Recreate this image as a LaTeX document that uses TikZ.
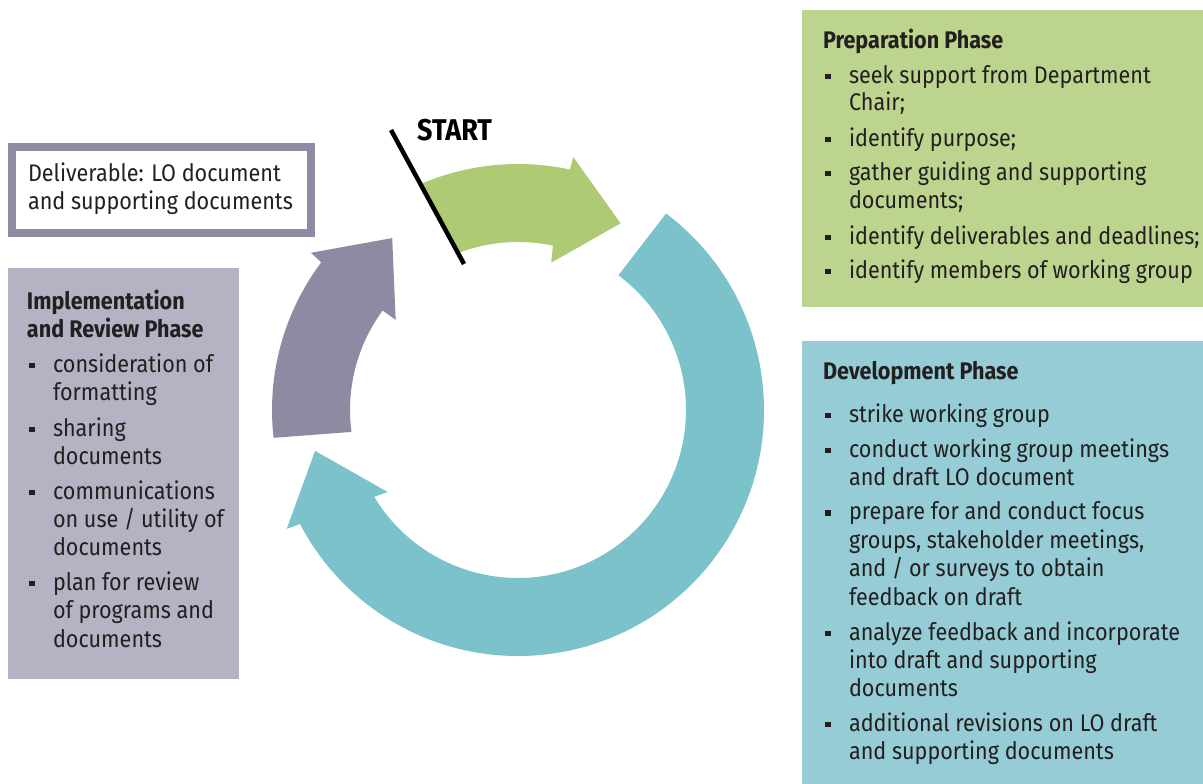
\documentclass[tikz,border=0pt]{standalone}
\usepackage{fontspec}
\setmainfont{Fira Sans}[FakeStretch=0.9]
\definecolor{txt}{HTML}{231F20}
\definecolor{grbox}{HTML}{BDD48E}
\definecolor{grarrow}{HTML}{AECB74}
\definecolor{tlbox}{HTML}{95CCD5}
\definecolor{tlarrow}{HTML}{7BC2CB}
\definecolor{pubox}{HTML}{B4B2C3}
\definecolor{puarrow}{HTML}{8D8AA1}
\definecolor{puborder}{HTML}{8E8BA3}
\newcommand{\bitem}[5]{%
  \node[bul] (#1b) at (#2,{784-#4+7}) {};
  \node[tl] (#1) at (#3,{784-#4}) {#5};}
\newcommand{\contl}[4]{\node[tl] (#1) at (#2,{784-#3}) {#4};}
\newcommand{\titl}[4]{\node[tt] (#1) at (#2,{784-#3}) {#4};}
\begin{document}
\begin{tikzpicture}[x=1pt,y=1pt,
  tl/.style={anchor=base west, inner sep=0pt, outer sep=0pt, text=txt, font=\fontsize{24}{28}\selectfont},
  tt/.style={tl, font=\fontsize{24}{28}\selectfont\bfseries},
  bul/.style={fill=txt, minimum size=5.5pt, inner sep=0pt, outer sep=0pt, anchor=center},
  panel/.style={minimum width=#1, inner sep=0pt, outer sep=0pt, anchor=north west},
  arr/.style={draw=none}]
\useasboundingbox (0,0) rectangle (1203,784);

% panels
\node[panel=401pt, fill=grbox, minimum height=297pt] (prep) at (802,774) {};
\node[panel=401pt, fill=tlbox, minimum height=443pt] (dev) at (802,443) {};
\node[panel=231pt, fill=pubox, minimum height=411pt] (impl) at (8,516) {};
\node[panel=299pt, draw=puborder, line width=8pt, fill=white, minimum height=86pt] (deliv) at (12,637) {};

% cycle arrows
\begin{scope}[shift={(518,374)}]
\fill[grarrow] (113.3:246) arc[start angle=113.3,end angle=77.8,radius=246]
  -- (77.7:259) -- (61.2:213) -- (77.3:151) -- (78:168)
  arc[start angle=78,end angle=110.9,radius=168] -- cycle;
\fill[tlarrow] (53:246) arc[start angle=53,end angle=-152.4,radius=246]
  -- (-152.8:260) -- (-168.6:207) -- (-147.8:154) -- (-148.9:168)
  arc[start angle=-148.9,end angle=53.3,radius=168] -- cycle;
\fill[puarrow] (186.5:246) arc[start angle=186.5,end angle=143.1,radius=246]
  -- (142.8:260) -- (126.2:213) -- (143.6:152) -- (143.7:168)
  arc[start angle=143.7,end angle=187.5,radius=168] -- cycle;
\end{scope}

% start marker
\coordinate (s1) at (391,654);
\coordinate (s2) at (464,520);
\draw[line width=4.5pt, black] (s1) -- (s2);
\node[anchor=base west, inner sep=0pt, text=black, font=\fontsize{30}{32}\selectfont\bfseries] (start) at (417,643) {START};

% deliverable
\contl{d1}{28}{181.7}{Deliverable: LO document}
\contl{d2}{28}{210}{and supporting documents}

% preparation
\titl{pt}{823}{49}{Preparation Phase}
\bitem{p1}{828}{849}{83.5}{seek support from Department}
\contl{p1a}{849}{110.5}{Chair;}
\bitem{p2}{828}{849}{146.5}{identify purpose;}
\bitem{p3}{828}{849}{180.5}{gather guiding and supporting}
\contl{p3a}{849}{208.5}{documents;}
\bitem{p4}{828}{849}{244.5}{identify deliverables and deadlines;}
\bitem{p5}{828}{849}{278.5}{identify members of working group}

% development
\titl{dt}{823}{380}{Development Phase}
\bitem{v1}{828}{849}{422.5}{strike working group}
\bitem{v2}{828}{849}{457.5}{conduct working group meetings}
\contl{v2a}{849}{485.7}{and draft LO document}
\bitem{v3}{828}{849}{520}{prepare for and conduct focus}
\contl{v3a}{849}{548.5}{groups, stakeholder meetings,}
\contl{v3b}{849}{577}{and / or surveys to obtain}
\contl{v3c}{849}{605.5}{feedback on draft}
\bitem{v4}{828}{849}{640.3}{analyze feedback and incorporate}
\contl{v4a}{849}{668.7}{into draft and supporting}
\contl{v4b}{849}{697}{documents}
\bitem{v5}{828}{849}{731.7}{additional revisions on LO draft}
\contl{v5a}{849}{760}{and supporting documents}

% implementation
\titl{it1}{27}{310}{Implementation}
\titl{it2}{27}{337.7}{and Review Phase}
\bitem{i1}{32}{53}{372.5}{consideration of}
\contl{i1a}{53}{401}{formatting}
\bitem{i2}{32}{53}{436.5}{sharing}
\contl{i2a}{53}{464.5}{documents}
\bitem{i3}{32}{53}{499.5}{communications}
\contl{i3a}{53}{527.5}{on use / utility of}
\contl{i3b}{53}{556}{documents}
\bitem{i4}{32}{53}{590.5}{plan for review}
\contl{i4a}{53}{619}{of programs and}
\contl{i4b}{53}{648}{documents}
\end{tikzpicture}
\end{document}
